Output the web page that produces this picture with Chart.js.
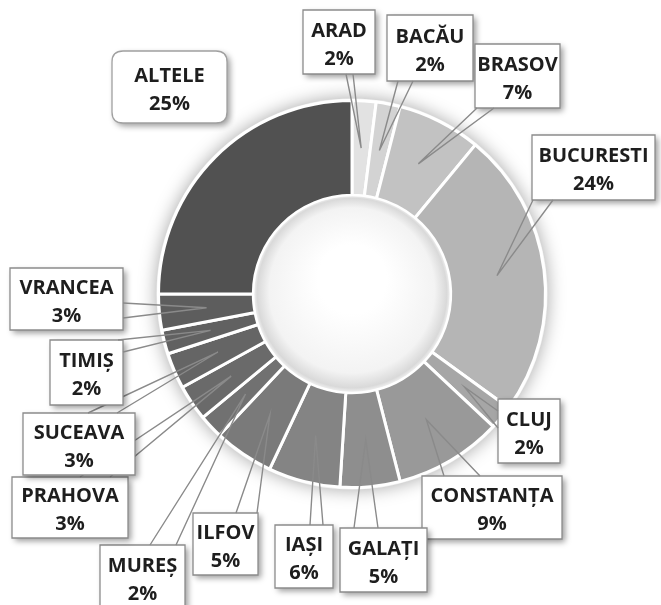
<!DOCTYPE html>
<html>
<head>
<meta charset="utf-8">
<script src="https://cdn.jsdelivr.net/npm/chart.js@4.4.1/dist/chart.umd.min.js"></script>
<style>
  html, body { margin: 0; padding: 0; background: #ffffff; }
  #wrap { width: 661px; height: 605px; position: relative; }
</style>
</head>
<body>
<div id="wrap"><canvas id="chart"></canvas></div>
<script>
// counties, clockwise from 12 o'clock
const judete = ['ARAD', 'BACĂU', 'BRASOV', 'BUCURESTI', 'CLUJ', 'CONSTANȚA', 'GALAȚI',
  'IAȘI', 'ILFOV', 'MUREȘ', 'PRAHOVA', 'SUCEAVA', 'TIMIȘ', 'VRANCEA', 'ALTELE'];
const procente = [2, 2, 7, 24, 2, 9, 5, 6, 5, 2, 3, 3, 2, 3, 25];
const nuante = ['#e2e2e2', '#d3d3d3', '#c2c2c2', '#b5b5b5', '#a6a6a6', '#999999', '#8e8e8e',
  '#848484', '#7a7a7a', '#717171', '#6a6a6a', '#656565', '#616161', '#5d5d5d', '#515151'];

// callout boxes: [x, y, w, h] and the two points where the wedge leaves the box
const casete = {
  'ARAD':      { box: [303, 10, 72, 64],   base: [[346, 74], [353, 74]] },
  'BACĂU':     { box: [387, 15, 86, 66],   base: [[398, 81], [413, 81]] },
  'BRASOV':    { box: [475, 44, 85, 64],   base: [[477, 108], [494, 108]] },
  'BUCURESTI': { box: [532, 135, 123, 65], base: [[533, 200], [553, 200]] },
  'CLUJ':      { box: [498, 399, 62, 64],  base: [[498, 411], [498, 428]] },
  'CONSTANȚA': { box: [422, 476, 140, 63], base: [[444, 476], [480, 476]] },
  'GALAȚI':    { box: [340, 528, 87, 64],  base: [[354, 528], [378, 528]] },
  'IAȘI':      { box: [275, 525, 58, 63],  base: [[310, 525], [323, 525]] },
  'ILFOV':     { box: [193, 513, 65, 62],  base: [[236, 513], [257, 513]] },
  'MUREȘ':     { box: [100, 545, 85, 64],  base: [[150, 545], [176, 545]] },
  'PRAHOVA':   { box: [12, 477, 116, 61],  base: [[80, 477], [110, 477]] },
  'SUCEAVA':   { box: [23, 413, 112, 62],  base: [[88, 413], [117, 413]] },
  'TIMIȘ':     { box: [50, 340, 73, 65],   base: [[118, 340], [123, 352]] },
  'VRANCEA':   { box: [10, 268, 113, 62],  base: [[123, 303], [123, 318]] },
  'ALTELE':    { box: [112, 51, 115, 72],  base: null, rounded: true }
};

const FONT = 'bold 20px "Open Sans", "DejaVu Sans", sans-serif';

function roundRect(ctx, x, y, w, h, r) {
  ctx.beginPath();
  ctx.moveTo(x + r, y);
  ctx.lineTo(x + w - r, y);
  ctx.quadraticCurveTo(x + w, y, x + w, y + r);
  ctx.lineTo(x + w, y + h - r);
  ctx.quadraticCurveTo(x + w, y + h, x + w - r, y + h);
  ctx.lineTo(x + r, y + h);
  ctx.quadraticCurveTo(x, y + h, x, y + h - r);
  ctx.lineTo(x, y + r);
  ctx.quadraticCurveTo(x, y, x + r, y);
  ctx.closePath();
}

// soft halo behind the ring and the shaded hole
const ringShade = {
  id: 'ringShade',
  beforeDatasetsDraw(chart) {
    const arc = chart.getDatasetMeta(0).data[0];
    if (!arc) return;
    const ctx = chart.ctx;
    ctx.save();
    ctx.beginPath();
    ctx.arc(arc.x, arc.y, arc.outerRadius + 2, 0, Math.PI * 2);
    ctx.shadowColor = 'rgba(0,0,0,0.35)';
    ctx.shadowBlur = 18;
    ctx.fillStyle = '#f2f2f2';
    ctx.fill();
    ctx.restore();
  },
  afterDatasetsDraw(chart) {
    const arc = chart.getDatasetMeta(0).data[0];
    if (!arc) return;
    const ctx = chart.ctx;
    const r = arc.innerRadius;
    ctx.save();
    const g = ctx.createRadialGradient(arc.x, arc.y - r * 0.15, r * 0.35, arc.x, arc.y, r);
    g.addColorStop(0, '#ffffff');
    g.addColorStop(0.75, '#f3f3f3');
    g.addColorStop(0.94, '#d9d9d9');
    g.addColorStop(1, '#f4f4f4');
    ctx.beginPath();
    ctx.arc(arc.x, arc.y, r - 1, 0, Math.PI * 2);
    ctx.fillStyle = g;
    ctx.fill();
    ctx.restore();
  }
};

// callout boxes with wedge pointers
const callouts = {
  id: 'callouts',
  afterDraw(chart) {
    const ctx = chart.ctx;
    const meta = chart.getDatasetMeta(0);
    const labels = chart.data.labels;
    const values = chart.data.datasets[0].data;
    ctx.save();
    labels.forEach((name, i) => {
      const c = casete[name];
      if (!c) return;
      const [bx, by, bw, bh] = c.box;
      // box with shadow
      ctx.save();
      ctx.shadowColor = 'rgba(0,0,0,0.4)';
      ctx.shadowBlur = 6;
      ctx.shadowOffsetX = 3;
      ctx.shadowOffsetY = 3;
      ctx.fillStyle = '#ffffff';
      if (c.rounded) roundRect(ctx, bx, by, bw, bh, 11);
      else { ctx.beginPath(); ctx.rect(bx, by, bw, bh); }
      ctx.fill();
      ctx.restore();
      ctx.lineWidth = 1.3;
      ctx.strokeStyle = c.rounded ? '#a0a0a0' : '#8c8c8c';
      if (c.rounded) roundRect(ctx, bx, by, bw, bh, 11);
      else { ctx.beginPath(); ctx.rect(bx, by, bw, bh); }
      ctx.stroke();

      if (c.base) {
        const el = meta.data[i];
        const p = el.tooltipPosition();
        ctx.strokeStyle = '#8a8a8a';
        ctx.lineWidth = 1.4;
        ctx.beginPath();
        ctx.moveTo(c.base[0][0], c.base[0][1]);
        ctx.lineTo(p.x, p.y);
        ctx.lineTo(c.base[1][0], c.base[1][1]);
        ctx.stroke();
      }

      ctx.fillStyle = '#1e1e1e';
      ctx.font = FONT;
      ctx.textAlign = 'center';
      ctx.textBaseline = 'middle';
      const cx = bx + bw / 2;
      const cy = by + bh / 2;
      ctx.fillText(name, cx, cy - 11);
      ctx.fillText(values[i] + '%', cx, cy + 17);
    });
    ctx.restore();
  }
};

new Chart(document.getElementById('chart'), {
  type: 'doughnut',
  data: {
    labels: judete,
    datasets: [{
      data: procente,
      backgroundColor: nuante,
      borderColor: '#ffffff',
      borderWidth: 3
    }]
  },
  options: {
    responsive: true,
    maintainAspectRatio: false,
    animation: false,
    cutout: '51%',
    layout: { padding: { left: 157, right: 114, top: 99, bottom: 116 } },
    plugins: {
      legend: { display: false },
      tooltip: { enabled: false }
    }
  },
  plugins: [ringShade, callouts]
});
</script>
</body>
</html>
